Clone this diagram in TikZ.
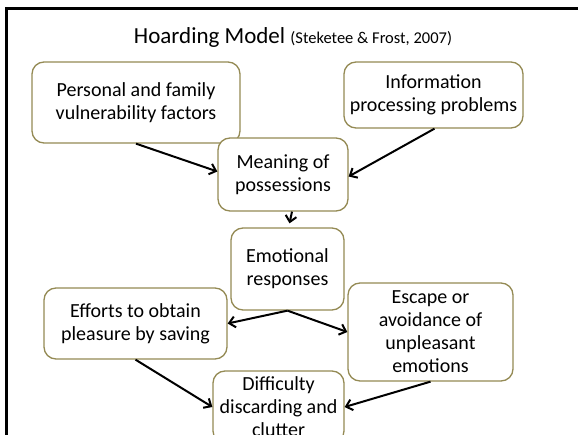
\documentclass[tikz,border=0pt]{standalone}
\usepackage{fontspec}
\setmainfont{Carlito}
\usepackage{xcolor}
\definecolor{boxolive}{RGB}{148,138,84}
\usepackage{tikz}
\usetikzlibrary{positioning,arrows.meta,calc}
\begin{document}
\begin{tikzpicture}[x=1pt,y=-1pt,
  hbox/.style={draw=boxolive,line width=1.3pt,rounded corners=12pt,fill=white,
    align=center,inner sep=0pt,font=\fontsize{20}{23}\selectfont},
  flow/.style={-{Straight Barb[length=6pt,width=11pt]},line width=2pt,black}]
  \useasboundingbox (0,0) rectangle (578,435);
  % frame (cut at right and bottom)
  \draw[line width=3pt] (6,435) -- (6,9) -- (578,9);
  \node (title) at (293,37) {\fontsize{23}{27}\selectfont Hoarding Model \fontsize{16.5}{19}\selectfont(Steketee \& Frost, 2007)};
  \node[hbox,minimum width=208pt,minimum height=81pt] (pers) at (136,102.5) {Personal and family\\vulnerability factors};
  \node[hbox,minimum width=179pt,minimum height=66pt] (info) at (433.5,95) {Information\\processing problems};
  \node[hbox,minimum width=130pt,minimum height=73pt] (mean) at (283,174.5) {Meaning of\\possessions};
  \node[hbox,minimum width=113pt,minimum height=82pt] (emo) at (287.5,269) {Emotional\\responses};
  \node[hbox,minimum width=183pt,minimum height=71pt] (eff) at (135.5,323.5) {Efforts to obtain\\pleasure by saving};
  \node[hbox,minimum width=165pt,minimum height=98pt] (esc) at (430.5,332) {Escape or\\avoidance of\\unpleasant\\emotions};
  \node[hbox,minimum width=131pt,minimum height=72pt] (diff) at (278.5,407) {Difficulty\\discarding and\\clutter};
  \draw[flow] (pers.south) -- ([yshift=3]mean.west);
  \draw[flow] ([xshift=1]info.south) -- ([yshift=-2]mean.east);
  \draw[flow] ([xshift=9]mean.south) -- ([xshift=2,yshift=4]emo.north);
  \draw[flow] (emo.south) -- (eff.east);
  \draw[flow] (emo.south) -- (esc.west);
  \draw[flow] (eff.south) -- (diff.west);
  \draw[flow] (esc.south) -- (diff.east);
\end{tikzpicture}
\end{document}
